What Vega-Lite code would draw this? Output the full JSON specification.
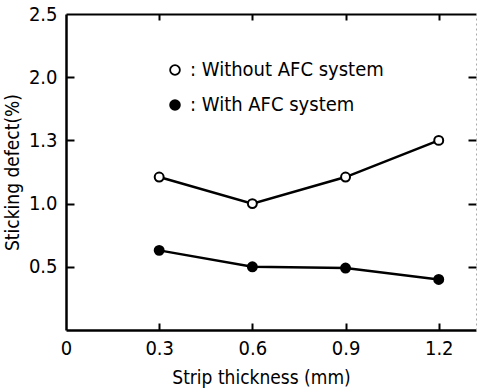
{
  "$schema": "https://vega.github.io/schema/vega-lite/v6.json",
  "width": 410,
  "height": 316,
  "autosize": {"type": "none"},
  "padding": {"left": 66, "top": 14, "right": 1, "bottom": 59},
  "background": "white",
  "config": {
    "view": {"stroke": null},
    "font": "Liberation Sans Narrow, DejaVu Sans Condensed, sans-serif",
    "axis": {"grid": false, "labelFont": "Liberation Sans Narrow, DejaVu Sans Condensed, sans-serif", "titleFont": "Liberation Sans Narrow, DejaVu Sans Condensed, sans-serif", "labelColor": "black", "titleColor": "black", "domainColor": "black", "tickColor": "black"}
  },
  "data": {"values": [
    {"thickness": 0.3, "defect": 1.21, "series": "Without AFC system"},
    {"thickness": 0.6, "defect": 1.0, "series": "Without AFC system"},
    {"thickness": 0.9, "defect": 1.21, "series": "Without AFC system"},
    {"thickness": 1.2, "defect": 1.5, "series": "Without AFC system"},
    {"thickness": 0.3, "defect": 0.63, "series": "With AFC system"},
    {"thickness": 0.6, "defect": 0.5, "series": "With AFC system"},
    {"thickness": 0.9, "defect": 0.49, "series": "With AFC system"},
    {"thickness": 1.2, "defect": 0.4, "series": "With AFC system"}
  ]},
  "layer": [
    {
      "mark": {"type": "line", "color": "black", "strokeWidth": 2.5},
      "encoding": {
        "detail": {"field": "series"},
        "x": {"field": "thickness", "type": "quantitative",
          "scale": {"domain": [0, 1.32], "nice": false, "zero": true},
          "axis": {"orient": "bottom", "values": [0, 0.3, 0.6, 0.9, 1.2], "labelExpr": "datum.value == 0 ? '0' : format(datum.value, '.1f')",
            "title": "Strip thickness (mm)", "titleFontSize": 19, "titleFontWeight": "normal", "labelFontSize": 20,
            "ticks": false, "domainWidth": 2.5, "labelPadding": 8, "titlePadding": 10, "titleX": 195, "labelFlush": false}},
        "y": {"field": "defect", "type": "quantitative",
          "scale": {"domain": [0, 2.5], "nice": false},
          "axis": {"orient": "left", "values": [0.5, 1.0, 1.5, 2.0, 2.5], "labelExpr": "datum.value == 1.5 ? '1.3' : format(datum.value, '.1f')",
            "title": "Sticking defect(%)", "titleFontSize": 19, "titleFontWeight": "normal", "labelFontSize": 20,
            "ticks": false, "domainWidth": 2.5, "labelPadding": 9, "titlePadding": 6, "labelFlush": false}}
      }
    },
    {
      "mark": {"type": "point", "filled": true, "stroke": "black", "strokeWidth": 2, "opacity": 1, "size": 80},
      "encoding": {
        "x": {"field": "thickness", "type": "quantitative", "scale": {"domain": [0, 1.32], "nice": false, "zero": true},
          "axis": {"orient": "top", "offset": -316, "values": [0.3, 0.6, 0.9, 1.2], "labelOpacity": 0, "labelFontSize": 1, "title": null, "domain": false, "tickSize": 7, "tickWidth": 2, "tickColor": "black"}},
        "y": {"field": "defect", "type": "quantitative", "scale": {"domain": [0, 2.5], "nice": false},
          "axis": {"orient": "right", "offset": -410, "values": [0.5, 1.0, 1.5, 2.0], "labelOpacity": 0, "labelFontSize": 1, "title": null, "domain": false, "tickSize": 8, "tickWidth": 2, "tickColor": "black"}},
        "fill": {"field": "series", "type": "nominal",
          "scale": {"domain": ["Without AFC system", "With AFC system"], "range": ["white", "black"]},
          "legend": {"orient": "none", "legendX": 99, "legendY": 46, "title": null,
            "labelExpr": "':  ' + datum.label", "labelFontSize": 20, "labelColor": "black", "labelLimit": 400,
            "labelFont": "Liberation Sans Narrow, DejaVu Sans Condensed, sans-serif",
            "symbolType": "circle", "symbolSize": 95, "symbolStrokeColor": "black", "symbolStrokeWidth": 1.8,
            "symbolOpacity": 1, "labelOffset": 5, "rowPadding": 15}}
      }
    },
    {
      "mark": {"type": "point", "size": 0, "strokeWidth": 0},
      "encoding": {
        "x": {"field": "thickness", "type": "quantitative", "scale": {"domain": [0, 1.32], "nice": false, "zero": true},
          "axis": {"orient": "bottom", "offset": -316, "values": [0.3, 0.6, 0.9, 1.2], "labelOpacity": 0, "labelFontSize": 1, "title": null, "tickSize": 6, "tickWidth": 2, "tickColor": "black", "domainWidth": 2, "domainColor": "black"}},
        "y": {"field": "defect", "type": "quantitative", "scale": {"domain": [0, 2.5], "nice": false},
          "axis": {"orient": "left", "offset": -410, "values": [0.5, 1.0, 1.5, 2.0], "labelOpacity": 0, "labelFontSize": 1, "title": null, "tickSize": 8, "tickWidth": 2, "tickColor": "black", "domainWidth": 1, "domainColor": "#aaaaaa", "domainDash": [2, 3]}}
      }
    }
  ],
  "resolve": {"scale": {"x": "independent", "y": "independent"}, "axis": {"x": "independent", "y": "independent"}}
}
